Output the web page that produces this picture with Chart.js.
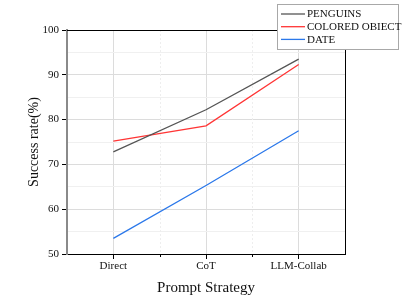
<!DOCTYPE html>
<html>
<head>
<meta charset="utf-8">
<script src="https://cdn.jsdelivr.net/npm/chart.js@4"></script>
<style>
  html, body { margin: 0; padding: 0; background: #fff; }
  #wrap { width: 405px; height: 297px; position: relative; }
</style>
</head>
<body>
<div id="wrap"><canvas id="c" width="405" height="297"></canvas></div>
<script>
const categories = ['Direct', 'CoT', 'LLM-Collab'];
const penguins = [72.8, 82.2, 93.5];
const coloredObject = [75.2, 78.6, 92.3];
const dateTask = [53.5, 65.3, 77.5];
const seriesNames = ['PENGUINS', 'COLORED OBIECT', 'DATE'];
const seriesColors = ['#555555', '#ff3535', '#2b78ea'];

const SERIF = "'Liberation Serif', 'Times New Roman', serif";

// minor x grid (between categories) + ticks below axis
const minorX = {
  id: 'minorX',
  beforeDatasetsDraw(chart) {
    const { ctx, chartArea: a, scales: { x } } = chart;
    ctx.save();
    for (let i = 0; i < categories.length - 1; i++) {
      const px = Math.round((x.getPixelForValue(i) + x.getPixelForValue(i + 1)) / 2) + 0.5;
      ctx.strokeStyle = '#eeeeee';
      ctx.setLineDash([2, 2]);
      ctx.beginPath();
      ctx.moveTo(px, a.top);
      ctx.lineTo(px, a.bottom);
      ctx.stroke();
      ctx.setLineDash([]);
      ctx.strokeStyle = '#000';
      ctx.beginPath();
      ctx.moveTo(px, a.bottom);
      ctx.lineTo(px, a.bottom + 3);
      ctx.stroke();
    }
    ctx.restore();
  }
};

// frame: top + right lines
const framePlugin = {
  id: 'frame',
  afterDatasetsDraw(chart) {
    const { ctx, chartArea: a } = chart;
    ctx.save();
    ctx.strokeStyle = '#000';
    ctx.lineWidth = 1;
    ctx.beginPath();
    ctx.moveTo(a.left, a.top + 0.5);
    ctx.lineTo(a.right + 0.5, a.top + 0.5);
    ctx.lineTo(a.right + 0.5, a.bottom);
    ctx.stroke();
    ctx.restore();
  }
};

// legend box drawn over the top-right corner
const legendBox = {
  id: 'legendBox',
  afterDraw(chart) {
    const ctx = chart.ctx;
    const x0 = 277, y0 = 4, w = 121, h = 45;
    ctx.save();
    ctx.fillStyle = '#fff';
    ctx.fillRect(x0, y0, w, h);
    ctx.strokeStyle = '#a8a8a8';
    ctx.lineWidth = 1;
    ctx.strokeRect(x0 + 0.5, y0 + 0.5, w, h);
    ctx.font = '11px ' + SERIF;
    ctx.textBaseline = 'middle';
    chart.data.datasets.forEach((ds, i) => {
      const y = 14 + i * 12.7;
      ctx.strokeStyle = ds.borderColor;
      ctx.lineWidth = 1.3;
      ctx.beginPath();
      ctx.moveTo(281, y);
      ctx.lineTo(305, y);
      ctx.stroke();
      ctx.fillStyle = '#111';
      ctx.fillText(ds.label, 307, y + 0.5);
    });
    ctx.restore();
  }
};

new Chart(document.getElementById('c'), {
  type: 'line',
  data: {
    labels: categories,
    datasets: [penguins, coloredObject, dateTask].map((d, i) => ({
      label: seriesNames[i],
      data: d,
      borderColor: seriesColors[i],
      backgroundColor: seriesColors[i],
      borderWidth: 1.3,
      pointRadius: 0,
      tension: 0
    }))
  },
  options: {
    responsive: false,
    animation: false,
    layout: { padding: { top: 30, right: 60, left: 0, bottom: 0 } },
    plugins: { legend: { display: false }, tooltip: { enabled: false } },
    scales: {
      x: {
        offset: true,
        afterFit(s) { s.height = 43; },
        grid: {
          offset: false,
          color: '#dcdcdc',
          lineWidth: 1,
          tickColor: '#000',
          tickLength: 5
        },
        border: { color: '#000', width: 1 },
        ticks: { color: '#111', padding: 1, font: { family: SERIF, size: 11 } },
        title: {
          display: true,
          text: 'Prompt Strategy',
          color: '#111',
          padding: { top: 0, bottom: 0 },
          font: { family: SERIF, size: 15 }
        }
      },
      y: {
        min: 50,
        max: 100,
        afterFit(s) { s.width = 67; },
        grid: {
          color: ctx => (ctx.tick && ctx.tick.value % 10 === 0) ? '#dcdcdc' : '#f0f0f0',
          tickColor: ctx => (ctx.tick && ctx.tick.value % 10 === 0) ? '#000' : 'rgba(0,0,0,0)',
          tickLength: 5
        },
        border: { color: '#8a8a8a', width: 2 },
        ticks: {
          stepSize: 5,
          color: '#111',
          padding: 3,
          font: { family: SERIF, size: 11 },
          callback: v => (v % 10 === 0 ? v : '')
        },
        title: {
          display: true,
          text: 'Success rate(%)',
          color: '#111',
          padding: { top: 26, bottom: 0 },
          font: { family: SERIF, size: 14 }
        }
      }
    }
  },
  plugins: [minorX, framePlugin, legendBox]
});
</script>
</body>
</html>
